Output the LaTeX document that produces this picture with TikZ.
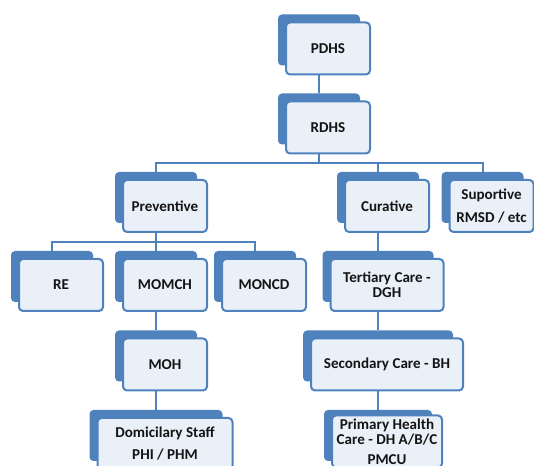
\documentclass[tikz,border=0pt]{standalone}
\usepackage{fontspec}
\setmainfont{Carlito}
\usepackage{tikz}
\usetikzlibrary{calc,positioning}
\definecolor{orgBlue}{RGB}{79,129,189}
\definecolor{orgFace}{RGB}{234,240,248}
\definecolor{orgText}{RGB}{20,20,20}

\begin{document}
\begin{tikzpicture}[x=0.75pt,y=0.75pt,
  cardback/.style={fill=orgBlue, rounded corners=3pt, inner sep=0pt, minimum width=61.5pt, minimum height=38.25pt},
  card/.style={draw=orgBlue, fill=orgFace, line width=1.5pt, rounded corners=3pt, inner sep=1pt, minimum width=63pt, minimum height=39pt, align=center, text=orgText, font=\bfseries\fontsize{11.3}{11.5}\selectfont},
  link/.style={draw=orgBlue, line width=1.5pt}]
\useasboundingbox (0,0) rectangle (534,466);
\clip (0,0) rectangle (534,466);
% back plates
\node[cardback] (pdhsB) at (319,426) {};
\node[cardback] (rdhsB) at (319,347) {};
\node[cardback] (prevB) at (156,268.5) {};
\node[cardback] (curB) at (378,268.5) {};
\node[cardback] (supB) at (482.5,268.5) {};
\node[cardback] (reB) at (52,189.5) {};
\node[cardback] (momchB) at (156,189.5) {};
\node[cardback] (moncdB) at (255,189.5) {};
\node[cardback, minimum width=83.25pt] (tertB) at (378,189.5) {};
\node[cardback] (mohB) at (156,110) {};
\node[cardback, minimum width=112.5pt] (secB) at (378,110) {};
\node[cardback, minimum width=99.75pt] (domB) at (156,30.5) {};
\node[cardback, minimum width=81pt] (primB) at (378,30.5) {};
% connectors
\coordinate (busA) at (0,303);
\coordinate (busB) at (0,224);
\draw[link] (pdhsB.center) -- (rdhsB.north);
\draw[link] (rdhsB.center) -- (rdhsB |- busA);
\draw[link] (prevB.north) |- (supB |- busA) -- (supB.north);
\draw[link] (curB.north) -- (curB |- busA);
\draw[link] (prevB.center) -- (prevB |- busB);
\draw[link] (reB.north) |- (moncdB |- busB) -- (moncdB.north);
\draw[link] (momchB.north) -- (momchB |- busB);
\draw[link] (momchB.center) -- (mohB.north);
\draw[link] (mohB.center) -- (domB.north);
\draw[link] (curB.center) -- (tertB.north);
\draw[link] (tertB.center) -- (secB.north);
\draw[link] (secB.center) -- (primB.north);
% front cards
\node[card] (pdhs) at ($(pdhsB)+(9,-8.5)$) {PDHS};
\node[card] (rdhs) at ($(rdhsB)+(9,-8.5)$) {RDHS};
\node[card] (prev) at ($(prevB)+(9,-8.5)$) {Preventive};
\node[card] (cur) at ($(curB)+(9,-8.5)$) {Curative};
\node[card, font=\bfseries\fontsize{11.3}{17}\selectfont] (sup) at ($(supB)+(9,-8.5)$) {Suportive\\RMSD / etc};
\node[card] (re) at ($(reB)+(9,-8.5)$) {RE};
\node[card] (momch) at ($(momchB)+(9,-8.5)$) {MOMCH};
\node[card] (moncd) at ($(moncdB)+(9,-8.5)$) {MONCD};
\node[card, minimum width=84.75pt] (tert) at ($(tertB)+(9,-8.5)$) {Tertiary Care -\\DGH};
\node[card] (moh) at ($(mohB)+(9,-8.5)$) {MOH};
\node[card, minimum width=114pt] (sec) at ($(secB)+(9,-8.5)$) {Secondary Care - BH};
\node[card, minimum width=101.25pt] (dom) at ($(domB)+(9,-8.5)$) {Domicilary Staff\\[5pt]PHI / PHM};
\node[card, minimum width=82.5pt] (prim) at ($(primB)+(9,-6)$) {Primary Health\\Care - DH A/B/C\\[3pt]PMCU};
\end{tikzpicture}
\end{document}
